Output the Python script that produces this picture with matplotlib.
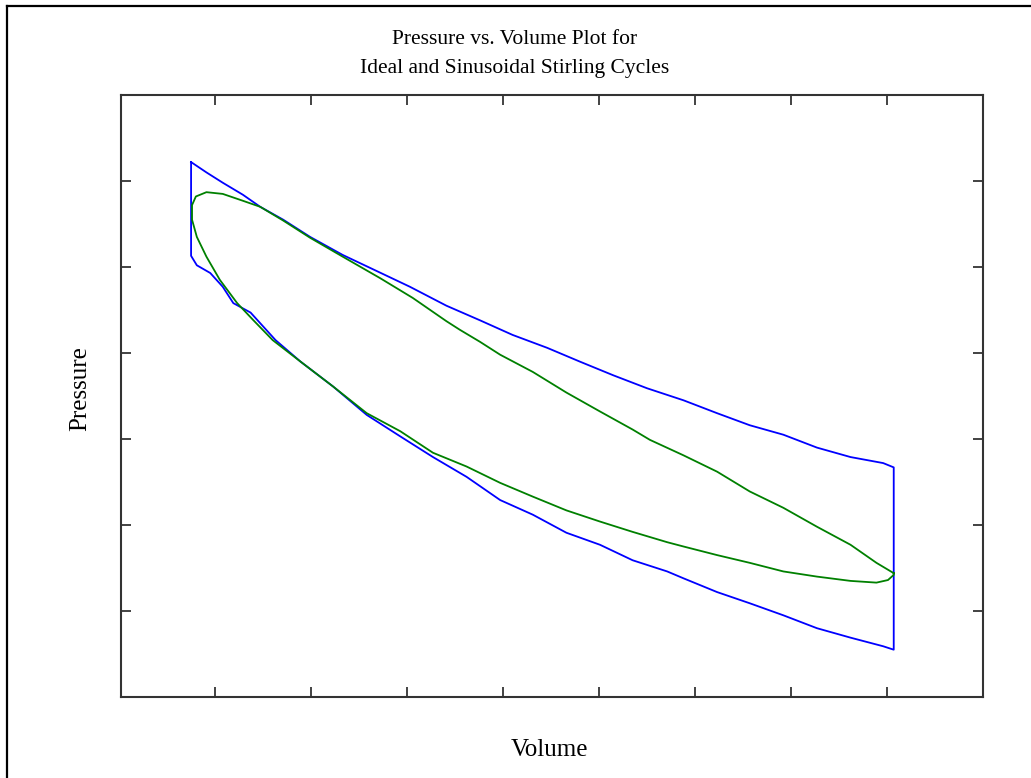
import matplotlib
matplotlib.use("Agg")
import matplotlib.pyplot as plt
from matplotlib.lines import Line2D

# Ideal Stirling cycle (arbitrary units)
ideal_v = [0.75, 0.91, 1.08, 1.29, 1.47, 1.71, 1.99, 2.33, 2.69, 3.03, 3.41, 3.76,
           4.10, 4.46, 4.80, 5.15, 5.50, 5.88, 6.23, 6.57, 6.92, 7.27, 7.62, 7.96, 8.07,
           8.07, 7.96, 7.62, 7.27, 6.92, 6.57, 6.23, 5.88, 5.71, 5.35, 5.01, 4.66,
           4.31, 3.97, 3.62, 3.27, 2.93, 2.58, 2.23, 1.89, 1.63, 1.37, 1.19, 1.08,
           0.95, 0.81, 0.75, 0.75]
ideal_p = [6.22, 6.10, 5.98, 5.84, 5.70, 5.55, 5.35, 5.14, 4.95, 4.77, 4.55, 4.38,
           4.21, 4.06, 3.90, 3.74, 3.59, 3.45, 3.30, 3.16, 3.05, 2.90, 2.79, 2.72, 2.67,
           0.55, 0.59, 0.69, 0.80, 0.95, 1.09, 1.22, 1.38, 1.46, 1.59, 1.77, 1.91,
           2.12, 2.29, 2.56, 2.79, 3.03, 3.28, 3.61, 3.90, 4.15, 4.47, 4.58, 4.77,
           4.93, 5.02, 5.13, 6.22]

# Sinusoidal Stirling cycle
sine_v = [8.07, 7.89, 7.62, 7.27, 6.92, 6.57, 6.23, 5.88, 5.53, 5.35, 5.01, 4.66,
          4.31, 3.97, 3.76, 3.55, 3.41, 3.06, 2.72, 2.33, 1.99, 1.71, 1.47, 1.29,
          1.08, 0.91, 0.80, 0.76, 0.76, 0.76, 0.81, 0.91, 1.05, 1.23, 1.40, 1.60,
          1.89, 2.23, 2.58, 2.93, 3.27, 3.62, 3.97, 4.31, 4.66, 5.01, 5.35, 5.71,
          5.88, 6.23, 6.57, 6.92, 7.27, 7.62, 7.89, 8.01, 8.07, 8.07]
sine_p = [1.44, 1.56, 1.77, 1.98, 2.20, 2.39, 2.62, 2.81, 2.99, 3.11, 3.32, 3.54,
          3.78, 3.98, 4.13, 4.27, 4.37, 4.64, 4.87, 5.12, 5.34, 5.54, 5.70, 5.77,
          5.85, 5.87, 5.82, 5.72, 5.59, 5.55, 5.35, 5.12, 4.85, 4.58, 4.38, 4.15,
          3.90, 3.61, 3.30, 3.09, 2.84, 2.68, 2.49, 2.33, 2.17, 2.04, 1.92, 1.80,
          1.75, 1.65, 1.56, 1.46, 1.40, 1.35, 1.33, 1.36, 1.42, 1.44]

x_ticks = [1, 2, 3, 4, 5, 6, 7, 8]
y_ticks = [1, 2, 3, 4, 5, 6]

W, H = 1031, 778
fig = plt.figure(figsize=(W / 100, H / 100), dpi=100)
ax = fig.add_axes([121 / W, (H - 697) / H, 862 / W, 602 / H])

ax.plot(ideal_v, ideal_p, color="#0000ff", lw=1.3)
ax.plot(sine_v, sine_p, color="#008000", lw=1.3)

ax.set_xlim(0.02, 9.0)
ax.set_ylim(0, 7)
ax.set_xticks(x_ticks)
ax.set_yticks(y_ticks)
ax.set_xticklabels([])
ax.set_yticklabels([])
ax.tick_params(direction="in", length=7, width=1.2, color="#222222",
               top=True, right=True)
for sp in ax.spines.values():
    sp.set_color("#333333")
    sp.set_linewidth(1.5)

serif = "Liberation Serif"
fig.text(515 / W, 1 - 40 / H, "Pressure vs. Volume Plot for", ha="center",
         va="center", family=serif, fontsize=15.5)
fig.text(515 / W, 1 - 68 / H, "Ideal and Sinusoidal Stirling Cycles", ha="center",
         va="center", family=serif, fontsize=15.5)
fig.text(549 / W, 1 - 750 / H, "Volume", ha="center", va="center",
         family=serif, fontsize=18)
fig.text(80 / W, 1 - 389 / H, "Pressure", ha="center", va="center",
         rotation=90, family=serif, fontsize=18)

# outer frame (only top and left edges visible)
fig.add_artist(Line2D([7 / W, 1], [1 - 6 / H, 1 - 6 / H], color="black",
                      lw=1.6, transform=fig.transFigure))
fig.add_artist(Line2D([7 / W, 7 / W], [0, 1 - 6 / H], color="black",
                      lw=1.6, transform=fig.transFigure))

fig.savefig("out.png", dpi=100)
